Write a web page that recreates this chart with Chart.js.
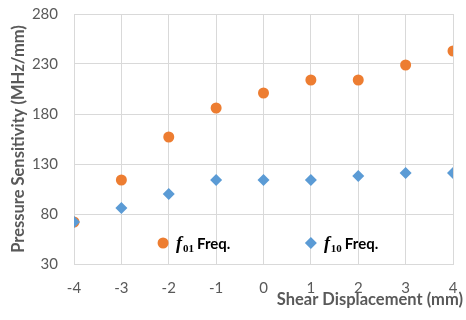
<!DOCTYPE html>
<html>
<head>
<meta charset="utf-8">
<script src="https://cdn.jsdelivr.net/npm/chart.js@4/dist/chart.umd.min.js"></script>
<style>
  body { margin: 0; background: #fff; }
  #wrap { width: 466px; height: 320px; }
</style>
</head>
<body>
<div id="wrap"><canvas id="shear" width="466" height="320"></canvas></div>
<script>
var displacement = [-4, -3, -2, -1, 0, 1, 2, 3, 4];
var f01 = [72, 114, 157, 186, 201, 214, 214, 229, 243];
var f10 = [72, 86, 100, 114, 114, 114, 118, 121, 121];
var yTicks = [30, 80, 130, 180, 230, 280];
var xTitle = "Shear Displacement (mm)";

var ORANGE = "#ED7D31";
var BLUE = "#5B9BD5";
var GREY = "#595959";
var FONT = "Lato, 'Open Sans', sans-serif";

function toPoints(ys) {
    return displacement.map(function (x, i) { return { x: x, y: ys[i] }; });
}

// legend sits inside the plot, like in the excel figure
// x title hangs past the right edge of the plot, so it is drawn here too
var extras = {
    id: "extras",
    afterDatasetsDraw: function (chart) {
        var ctx = chart.ctx;
        var xs = chart.scales.x, ys = chart.scales.y;
        var yy = ys.getPixelForValue(51);
        var items = [
            { at: -2.12, color: ORANGE, style: "circle", sub: "01" },
            { at: 1, color: BLUE, style: "diamond", sub: "10" }
        ];
        ctx.save();
        items.forEach(function (it) {
            var px = xs.getPixelForValue(it.at);
            ctx.fillStyle = it.color;
            ctx.beginPath();
            if (it.style === "circle") {
                ctx.arc(px, yy, 5.5, 0, Math.PI * 2);
            } else {
                ctx.moveTo(px, yy - 6); ctx.lineTo(px + 6, yy); ctx.lineTo(px, yy + 6); ctx.lineTo(px - 6, yy);
            }
            ctx.fill();
            var tx = px + 13;
            ctx.fillStyle = "#000";
            ctx.textBaseline = "alphabetic";
            ctx.font = "italic bold 18px 'Liberation Serif', serif";
            ctx.fillText("f", tx, yy + 6);
            tx += ctx.measureText("f").width + 1;
            ctx.font = "bold 11px 'Liberation Serif', serif";
            ctx.fillText(it.sub, tx, yy + 9);
            tx += ctx.measureText(it.sub).width + 3;
            ctx.font = "bold 15px " + FONT;
            ctx.fillText("Freq.", tx, yy + 6);
        });
        ctx.fillStyle = GREY;
        ctx.font = "bold 16.5px " + FONT;
        ctx.textAlign = "right";
        ctx.textBaseline = "middle";
        ctx.fillText(xTitle, chart.chartArea.right + 10, 300);
        ctx.restore();
    }
};

new Chart("shear", {
    type: "scatter",
    data: {
        datasets: [{
                label: "f01 Freq.",
                data: toPoints(f01),
                pointStyle: "circle",
                pointRadius: 5.5,
                pointBackgroundColor: ORANGE,
                pointBorderWidth: 0,
                order: 2
            }, {
                label: "f10 Freq.",
                data: toPoints(f10),
                pointStyle: "rectRot",
                pointRadius: 6,
                pointBackgroundColor: BLUE,
                pointBorderWidth: 0,
                order: 1
            }]
    },
    options: {
        responsive: false,
        animation: false,
        layout: { padding: { top: 14, right: 13, left: 4, bottom: 0 } },
        plugins: {
            legend: { display: false },
            tooltip: { enabled: false }
        },
        scales: {
            x: {
                type: "linear",
                min: -4,
                max: 4,
                afterFit: function (axis) { axis.height = 56; axis.paddingLeft = 0; axis.paddingRight = 0; },
                ticks: { stepSize: 1, color: GREY, font: { family: FONT, size: 15 }, padding: 15 },
                grid: { color: "#D9D9D9", drawTicks: false },
                border: { color: "#D9D9D9" }
            },
            y: {
                min: 30,
                max: 280,
                afterBuildTicks: function (axis) {
                    axis.ticks = yTicks.map(function (v) { return { value: v }; });
                },
                afterFit: function (axis) { axis.width = 70; axis.paddingTop = 0; axis.paddingBottom = 0; },
                ticks: { color: GREY, font: { family: FONT, size: 15 }, padding: 16 },
                grid: { color: "#D9D9D9", drawTicks: false },
                border: { color: "#D9D9D9" },
                title: {
                    display: true,
                    text: "Pressure Sensitivity (MHz/mm)",
                    color: GREY,
                    font: { family: FONT, size: 16.5, weight: "bold" },
                    padding: { top: 5, bottom: 2 }
                }
            }
        }
    },
    plugins: [extras]
});
</script>
</body>
</html>
